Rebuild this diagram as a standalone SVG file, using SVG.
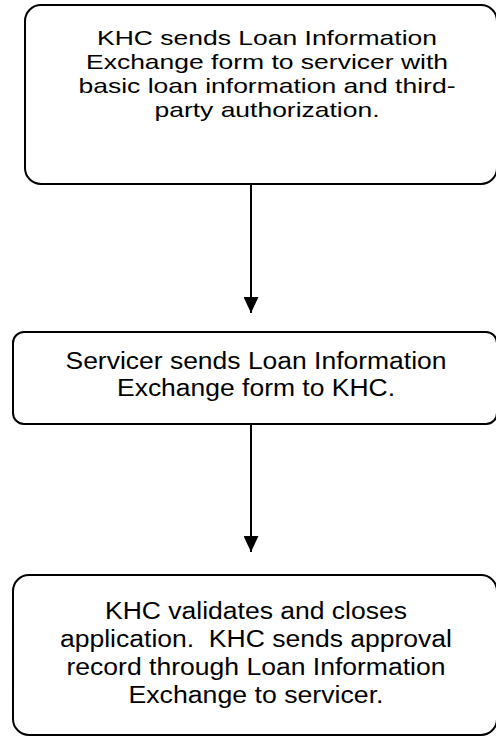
<svg xmlns="http://www.w3.org/2000/svg" width="496" height="736" viewBox="0 0 496 736">
<style>
.box{fill:#fff;stroke:#000;stroke-width:2}
.t{font-family:"Liberation Sans",Arial,sans-serif;font-size:23.5px;fill:#000;text-anchor:middle;white-space:pre}
.s{font-size:21px}
.c{stroke:#000;stroke-width:2;fill:none}
</style>
<defs>
<marker id="ah" viewBox="0 0 16 15" refX="16" refY="7.5" markerWidth="16" markerHeight="15" markerUnits="userSpaceOnUse" orient="auto">
<path d="M0,0 L16,7.5 L0,15 Z" fill="#000"/>
</marker>
</defs>
<rect width="496" height="736" fill="#fff"/>
<g id="connectors">
<line class="c" x1="251" y1="184" x2="251" y2="313" marker-end="url(#ah)"/>
<line class="c" x1="251" y1="424" x2="251" y2="552" marker-end="url(#ah)"/>
</g>
<g id="n1">
<rect class="box" x="25" y="5" width="472" height="179" rx="16"/>
<text class="t s" x="267" y="45" textLength="340" lengthAdjust="spacingAndGlyphs">KHC sends Loan Information</text>
<text class="t s" x="267" y="69" textLength="362" lengthAdjust="spacingAndGlyphs">Exchange form to servicer with</text>
<text class="t s" x="267" y="93" textLength="377" lengthAdjust="spacingAndGlyphs">basic loan information and third-</text>
<text class="t s" x="267" y="117" textLength="225" lengthAdjust="spacingAndGlyphs">party authorization.</text>
</g>
<g id="n2">
<rect class="box" x="13" y="332" width="484" height="92" rx="11"/>
<text class="t" x="256" y="369" textLength="381" lengthAdjust="spacingAndGlyphs">Servicer sends Loan Information</text>
<text class="t" x="256" y="396" textLength="278" lengthAdjust="spacingAndGlyphs">Exchange form to KHC.</text>
</g>
<g id="n3">
<rect class="box" x="13" y="575" width="484" height="160" rx="16"/>
<text class="t" x="256" y="619" textLength="302" lengthAdjust="spacingAndGlyphs">KHC validates and closes</text>
<text class="t" x="256" y="647" textLength="392" lengthAdjust="spacingAndGlyphs" xml:space="preserve">application.  KHC sends approval</text>
<text class="t" x="256" y="675" textLength="379" lengthAdjust="spacingAndGlyphs">record through Loan Information</text>
<text class="t" x="256" y="703" textLength="255" lengthAdjust="spacingAndGlyphs">Exchange to servicer.</text>
</g>
</svg>
